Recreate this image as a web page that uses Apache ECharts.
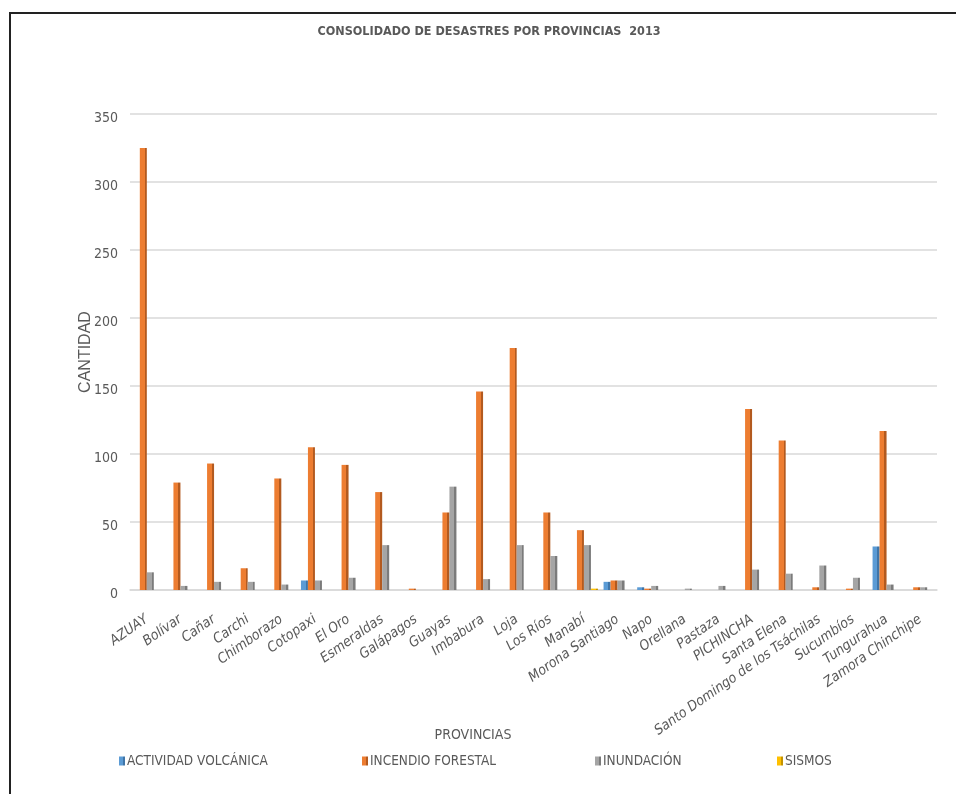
<!DOCTYPE html>
<html>
<head>
<meta charset="utf-8">
<script src="https://cdn.jsdelivr.net/npm/echarts@6/dist/echarts.min.js"></script>
<style>html,body{margin:0;padding:0;background:#fff}#c{width:956px;height:794px}</style>
</head>
<body>
<div id="c"></div>
<script>
var provincias = ['AZUAY','Bolívar','Cañar','Carchi','Chimborazo','Cotopaxi','El Oro','Esmeraldas','Galápagos','Guayas','Imbabura','Loja','Los Ríos','Manabí','Morona Santiago','Napo','Orellana','Pastaza','PICHINCHA','Santa Elena','Santo Domingo de los Tsáchilas','Sucumbíos','Tungurahua','Zamora Chinchipe'];
var actividadVolcanica = [0,0,0,0,0,7,0,0,0,0,0,0,0,0,6,2,0,0,0,0,0,0,32,0];
var incendioForestal  = [325,79,93,16,82,105,92,72,1,57,146,178,57,44,7,1,0,0,133,110,2,1,117,2];
var inundacion        = [13,3,6,6,4,7,9,33,0,76,8,33,25,33,7,3,1,3,15,12,18,9,4,2];
var sismos            = [0,0,0,0,0,0,0,0,0,0,0,0,0,1,0,0,0,0,0,0,0,0,0,0];
var seriesNames = ['ACTIVIDAD VOLCÁNICA','INCENDIO FORESTAL','INUNDACIÓN','SISMOS'];
var yTicks = {min:0, max:350, interval:50};

var FONT = "'DejaVu Sans Condensed','Liberation Sans',sans-serif";
var TXT = '#595959';
var colors = ['#5B9BD5','#ED7D31','#A5A5A5','#FFC000'];
var sides  = ['#3F75A8','#B35A1F','#7B7B7B','#C49300'];
function fillFor(i){
  return {type:'linear',x:0,y:0,x2:1,y2:0,colorStops:[
    {offset:0,color:colors[i]},{offset:0.7,color:colors[i]},
    {offset:0.7,color:sides[i]},{offset:1,color:sides[i]}]};
}
var allData = [actividadVolcanica, incendioForestal, inundacion, sismos];
var legendX = [119, 362, 595, 777];

var chart = echarts.init(document.getElementById('c'), null, {renderer:'canvas'});
var option = {
  backgroundColor:'#fff',
  animation:false,
  color: colors,
  title:{
    text:'CONSOLIDADO DE DESASTRES POR PROVINCIAS  2013',
    left:489, top:25, textAlign:'center', padding:0,
    textStyle:{fontFamily:FONT, fontSize:12.5, fontWeight:'bold', color:TXT}
  },
  legend: seriesNames.map(function(n,i){
    return {data:[n], left:legendX[i], top:754, padding:0, icon:'rect', itemWidth:6, itemHeight:9,
      textStyle:{fontFamily:FONT, fontSize:13.5, color:TXT, padding:[0,0,0,-3]}};
  }),
  grid:{left:130, right:19, top:114, bottom:204, containLabel:false},
  xAxis:{
    type:'category', data:provincias,
    axisLine:{show:true, lineStyle:{color:'#D9D9D9', width:1.5}},
    axisTick:{show:false},
    axisLabel:{rotate:35, interval:0, margin:28, fontFamily:FONT, fontSize:14, color:TXT, fontStyle:'italic'}
  },
  yAxis:{
    type:'value', min:yTicks.min, max:yTicks.max, interval:yTicks.interval,
    name:'CANTIDAD', nameLocation:'middle', nameGap:36, nameMoveOverlap:false,
    nameTextStyle:{fontFamily:"'Liberation Sans',sans-serif", fontSize:16, color:TXT},
    axisLine:{show:false}, axisTick:{show:false},
    axisLabel:{fontFamily:FONT, fontSize:14, color:TXT, margin:12, verticalAlign:'top', lineHeight:8},
    splitLine:{lineStyle:{color:'#D9D9D9', width:1.5}}
  },
  graphic:[
    {type:'rect', shape:{x:10, y:13, width:960, height:800}, style:{fill:'none', stroke:'#222', lineWidth:2}, silent:true},
    {type:'text', x:473, y:735, style:{text:'PROVINCIAS', fontFamily:FONT, fontSize:14, fill:TXT, align:'center', verticalAlign:'middle'}}
  ],
  series: seriesNames.map(function(n,i){
    return {name:n, type:'bar', data:allData[i], barWidth:7, barGap:'0%',
      itemStyle:{color:fillFor(i)}};
  })
};
chart.setOption(option);
</script>
</body>
</html>
